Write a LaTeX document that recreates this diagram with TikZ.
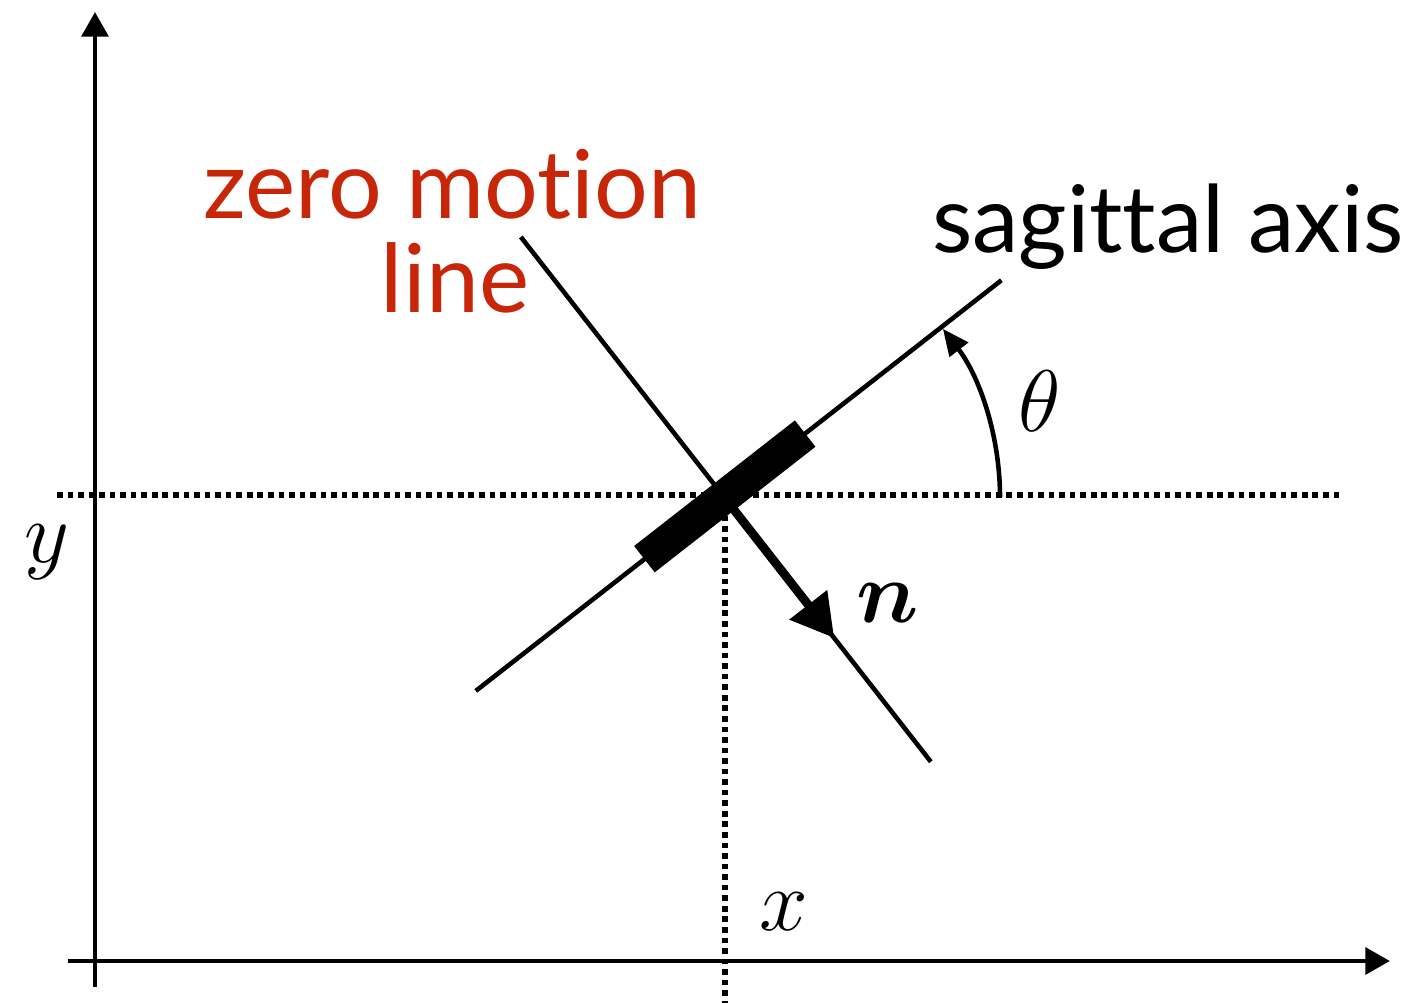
\documentclass[tikz,border=0pt]{standalone}
\usepackage{amsmath}
\usepackage{fontspec}
\newfontfamily\labelfont[Ligatures={NoCommon,NoContextual}]{Lato}
\usetikzlibrary{calc,arrows.meta}
\definecolor{zmred}{RGB}{200,38,8}
\newcommand{\nolig}{\kern0pt}
\begin{document}
\begin{tikzpicture}[x=0.01cm,y=0.01cm,
  thinline/.style={line width=1.3pt},
  axisline/.style={line width=1.4pt,-{Triangle[length=7pt,width=7.5pt]}},
  dotline/.style={line width=1.5pt,dash pattern=on 1.6pt off 1.4pt},
  wordlabel/.style={font=\labelfont\fontsize{27}{32}\selectfont,inner sep=0pt,anchor=base},
  mathlabel/.style={font=\fontsize{29}{34}\selectfont,inner sep=0pt,anchor=base}]
\useasboundingbox (0,0) rectangle (1408,1003);
% axes
\coordinate (O) at (95,42);
\coordinate (ybot) at (95,16);
\coordinate (ytop) at (95,991);
\coordinate (xleft) at (68,42);
\coordinate (xright) at (1390,42);
\draw[axisline] (ybot) -- (ytop);
\draw[axisline] (xleft) -- (xright);
% centre
\coordinate (C) at (724,506);
% dotted guides
\coordinate (hl) at (57,508);
\coordinate (hr) at (1340,508);
\coordinate (vt) at (725,498);
\coordinate (vb) at (725,0);
\draw[dotline] (hl) -- (hr);
\draw[dotline] (vt) -- (vb);
% sagittal axis
\coordinate (sa1) at ($(C)+(218:315)$);
\coordinate (sa2) at ($(C)+(38:352)$);
\draw[thinline] (sa1) -- (sa2);
% zero motion line
\coordinate (zm1) at ($(C)+(128:330)$);
\coordinate (zm2) at ($(C)+(-52:336)$);
\draw[thinline] (zm1) -- (zm2);
% thick bar
\coordinate (b1) at ($(C)+(218:101)$);
\coordinate (b2) at ($(C)+(38:103)$);
\draw[line width=9.5pt] (b1) -- (b2);
% normal arrow
\coordinate (ntip) at ($(C)+(-52:179)$);
\draw[line width=2.5pt,-{Triangle[length=12pt,width=13pt]}] (C) -- (ntip);
% theta arc
\coordinate (a0) at ($(C)+(0:276)$);
\draw[line width=1.3pt,-{Triangle[length=7.5pt,width=6.5pt]}] (a0) arc[start angle=0,end angle=37.5,radius=2.76cm];
% labels
\node[wordlabel,text=zmred] (zml1) at (452,784) {zero mot\nolig ion};
\node[wordlabel,text=zmred] (zml2) at (455,690) {line};
\node[wordlabel,font=\labelfont\fontsize{26.5}{32}\selectfont] (sal) at (1168,750) {sagit\nolig t\nolig al axis};
\node[mathlabel] (th) at (1040,571) {$\theta$};
\node[mathlabel] (nl) at (888,380) {$\boldsymbol{n}$};
\node[mathlabel] (yl) at (47,440) {$y$};
\node[mathlabel] (xl) at (784,72) {$x$};
\end{tikzpicture}
\end{document}
